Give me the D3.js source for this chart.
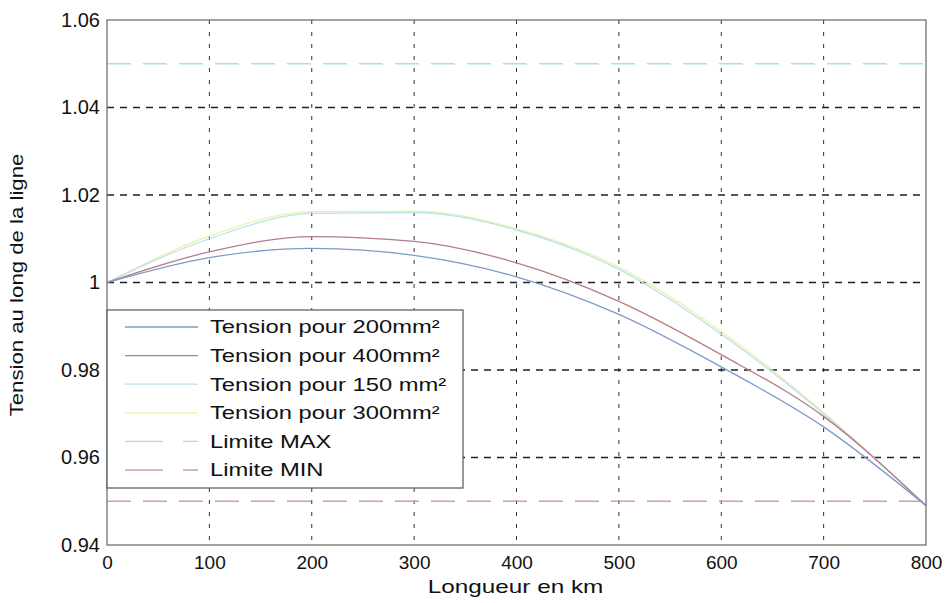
<!DOCTYPE html>
<html>
<head>
<meta charset="utf-8">
<script src="https://cdn.jsdelivr.net/npm/d3@7"></script>
<style>
  body { margin: 0; background: #fff; }
  svg { font-family: "Liberation Sans", Arial, sans-serif; }
</style>
</head>
<body>
<div id="wrapper"></div>
<script>
// data
const longueur = [0, 100, 200, 300, 400, 500, 600, 700, 800]
const tension200 = [1.0, 1.0057, 1.0078, 1.0062, 1.0013, 0.9927, 0.9807, 0.9670, 0.9490]
const tension400 = [1.0, 1.0070, 1.0105, 1.0094, 1.0045, 0.9957, 0.9835, 0.9694, 0.9490]
const tension150 = [1.0, 1.0100, 1.0158, 1.0160, 1.0120, 1.0030, 0.9882, 0.9700, 0.9490]
const tension300 = [1.0, 1.0106, 1.0162, 1.0163, 1.0123, 1.0035, 0.9888, 0.9703, 0.9490]
const limiteMax = 1.05
const limiteMin = 0.95
const xTicks = [0, 100, 200, 300, 400, 500, 600, 700, 800]
const yTicks = [0.94, 0.96, 0.98, 1, 1.02, 1.04, 1.06]
const legendLabels = ["Tension pour 200mm²", "Tension pour 400mm²", "Tension pour 150 mm²", "Tension pour 300mm²", "Limite MAX", "Limite MIN"]

const width = 948
const height = 603
const dimensions = {
  margin: { top: 20, right: 22, bottom: 58, left: 107 }
}
dimensions.boundedWidth = width - dimensions.margin.left - dimensions.margin.right
dimensions.boundedHeight = height - dimensions.margin.top - dimensions.margin.bottom

const svg = d3.select("#wrapper").append("svg")
  .attr("width", width)
  .attr("height", height)

const bounds = svg.append("g")
  .attr("transform", `translate(${dimensions.margin.left},${dimensions.margin.top})`)

const xScale = d3.scaleLinear().domain([0, 800]).range([0, dimensions.boundedWidth])
const yScale = d3.scaleLinear().domain([0.94, 1.06]).range([dimensions.boundedHeight, 0])

// grid
bounds.append("g").selectAll("line")
  .data(xTicks.slice(1, -1))
  .join("line")
  .attr("x1", d => xScale(d)).attr("x2", d => xScale(d))
  .attr("y1", 0).attr("y2", dimensions.boundedHeight)
  .attr("stroke", "#333").attr("stroke-width", 1)
  .attr("stroke-dasharray", "4,8")

bounds.append("g").selectAll("line")
  .data(yTicks.slice(1, -1))
  .join("line")
  .attr("x1", 0).attr("x2", dimensions.boundedWidth)
  .attr("y1", d => yScale(d)).attr("y2", d => yScale(d))
  .attr("stroke", "#222").attr("stroke-width", 1.3)
  .attr("stroke-dasharray", "7,6")

// limits
const limits = [
  { v: limiteMax, color: "#a9dfe6" },
  { v: limiteMin, color: "#d49ab8" }
]
bounds.append("g").selectAll("line")
  .data(limits)
  .join("line")
  .attr("x1", 0).attr("x2", dimensions.boundedWidth)
  .attr("y1", d => yScale(d.v)).attr("y2", d => yScale(d.v))
  .attr("stroke", d => d.color).attr("stroke-width", 1.5)
  .attr("stroke-dasharray", "24,12")

// series
const series = [
  { values: tension300, color: "#eef0a8" },
  { values: tension150, color: "#b8e3ea" },
  { values: tension400, color: "#b57a8c" },
  { values: tension200, color: "#7d9acb" }
]
const lineGen = d3.line()
  .x((d, i) => xScale(longueur[i]))
  .y(d => yScale(d))
  .curve(d3.curveMonotoneX)

bounds.append("g").selectAll("path")
  .data(series)
  .join("path")
  .attr("d", d => lineGen(d.values))
  .attr("fill", "none")
  .attr("stroke", d => d.color)
  .attr("stroke-width", 1.3)

// frame
bounds.append("rect")
  .attr("width", dimensions.boundedWidth)
  .attr("height", dimensions.boundedHeight)
  .attr("fill", "none")
  .attr("stroke", "#666")
  .attr("stroke-width", 1.2)

// axes
const xAxis = bounds.append("g")
  .attr("transform", `translate(0,${dimensions.boundedHeight})`)
  .call(d3.axisBottom(xScale).tickValues(xTicks).tickSize(0).tickPadding(11).tickFormat(d3.format("d")))
xAxis.select(".domain").remove()
xAxis.selectAll("text").attr("font-size", 19).attr("fill", "#111")
  .attr("font-family", "Liberation Sans, Arial, sans-serif")

const yAxis = bounds.append("g")
  .call(d3.axisLeft(yScale).tickValues(yTicks).tickSize(0).tickPadding(7).tickFormat(d => d === 1 ? "1" : d3.format(".2f")(d)))
yAxis.select(".domain").remove()
yAxis.selectAll("text").attr("font-size", 20).attr("fill", "#111")
  .attr("font-family", "Liberation Sans, Arial, sans-serif")

svg.append("text")
  .attr("transform", `translate(${dimensions.margin.left + dimensions.boundedWidth / 2 - 1},593) scale(1.28,1)`)
  .attr("text-anchor", "middle")
  .attr("font-size", 19)
  .attr("fill", "#111")
  .text("Longueur en km")

svg.append("text")
  .attr("transform", `translate(23,285) rotate(-90) scale(1.2,1)`)
  .attr("text-anchor", "middle")
  .attr("font-size", 18.5)
  .attr("fill", "#111")
  .text("Tension au long de la ligne")

// legend
const legendColors = ["#7d9acb", "#b57a8c", "#b8e3ea", "#eef0a8", "#a9dfe6", "#d49ab8"]
const legend = svg.append("g").attr("transform", "translate(107,310)")
legend.append("rect")
  .attr("width", 356).attr("height", 178)
  .attr("fill", "#fff")
  .attr("stroke", "#555").attr("stroke-width", 1.2)

const items = legend.selectAll("g.item")
  .data(legendLabels)
  .join("g")
  .attr("class", "item")
  .attr("transform", (d, i) => `translate(0,${17 + i * 28.6})`)

items.append("line")
  .attr("x1", 18).attr("x2", 91)
  .attr("stroke", (d, i) => legendColors[i])
  .attr("stroke-width", 1.3)
  .attr("stroke-dasharray", (d, i) => i >= 4 ? "38,20" : null)

items.append("text")
  .attr("transform", "translate(103,0) scale(1.32,1)")
  .attr("dy", "0.35em")
  .attr("font-size", 18)
  .attr("fill", "#111")
  .text(d => d)
</script>
</body>
</html>
